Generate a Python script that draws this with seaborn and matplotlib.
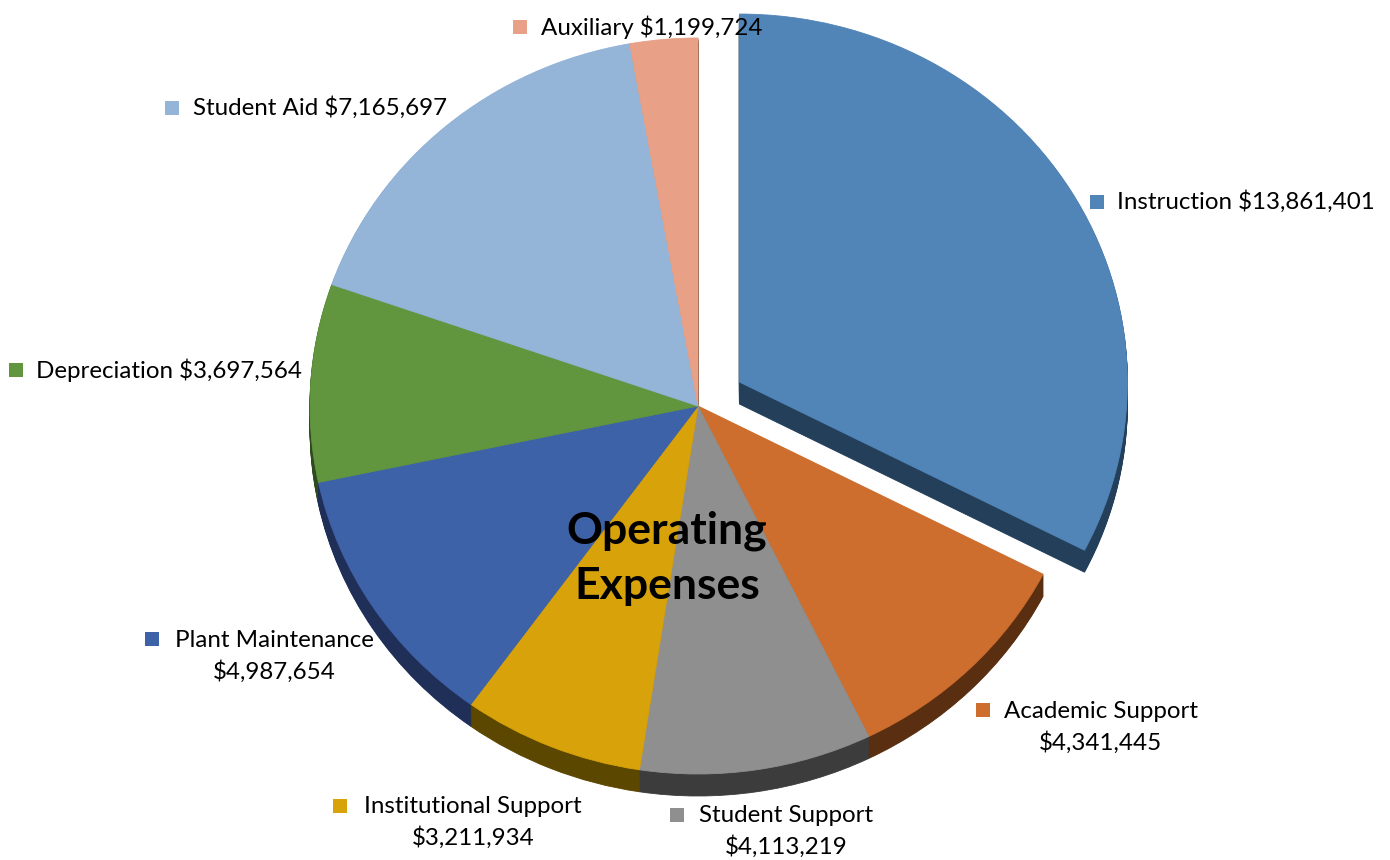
import numpy as np
import matplotlib
matplotlib.use("Agg")
import matplotlib.pyplot as plt
import seaborn as sns

# ---- data ----
categories = ["Instruction", "Academic Support", "Student Support", "Institutional Support",
              "Plant Maintenance", "Depreciation", "Student Aid", "Auxiliary"]
values = [13861401, 4341445, 4113219, 3211934, 4987654, 3697564, 7165697, 1199724]
top_colors = ["#5185B8", "#CD6E2E", "#8F8F8F", "#D8A20A", "#3E62A8", "#61963F", "#94B4D8", "#E8A086"]
side_colors = ["#243F5A", "#5A2E10", "#3C3C3C", "#5C4700", "#1F2F58", "#2F4A1E", "#4A5A6C", "#74503F"]
explode = [0.125, 0, 0, 0, 0, 0, 0, 0]
title = "Operating\nExpenses"

sns.set_theme(style="white")
plt.rcParams['font.family'] = ['Lato', 'DejaVu Sans']

W, H = 1390, 860
fig = plt.figure(figsize=(W / 100, H / 100), dpi=100)
ax = fig.add_axes([0, 0, 1, 1])

CX, CY, RX, RY = 698, 406, 388, 368


def px(x, y):
    return ((x - CX) / RX, (CY - y) / RY)


def draw_pie(colors, dy):
    wedges, _ = ax.pie(values, colors=colors, explode=explode, startangle=90, counterclock=False,
                       center=(0, dy), radius=1)
    for w, c in zip(wedges, colors):
        w.set_edgecolor(c)
        w.set_linewidth(0.6)


depth = 22 / RY
n_layers = 23
for d in np.linspace(depth, 0, n_layers, endpoint=False):
    draw_pie(side_colors, -d)
draw_pie(top_colors, 0)

ax.set_aspect("auto")
x0, y0 = px(0, H)
x1, y1 = px(W, 0)
ax.set_xlim(x0, x1)
ax.set_ylim(y0, y1)
ax.axis("off")

labels = [f"{c} ${v:,}" for c, v in zip(categories, values)]
fs = 17.4

# single-line labels: (marker x, y, text left x)
single = {0: (1097, 202, 1117), 5: (16, 370, 36), 6: (172, 108, 193), 7: (520, 27, 541)}
for i, (mx, my, tx) in single.items():
    ax.scatter(*px(mx, my), marker="s", s=115, color=top_colors[i], linewidths=0, zorder=5)
    ax.text(*px(tx, my), labels[i], ha="left", va="center", fontsize=fs, color="black", zorder=5)

# two-line labels: (marker x, marker y, text center x, block center y)
double = {1: (983, 710, 1101, 727), 2: (677, 815, 786, 831), 3: (340, 806, 473, 822),
          4: (152, 639, 274, 656)}
for i, (mx, my, tcx, tcy) in double.items():
    ax.scatter(*px(mx, my), marker="s", s=115, color=top_colors[i], linewidths=0, zorder=5)
    ax.text(*px(tcx, tcy), f"{categories[i]}\n${values[i]:,}", ha="center", va="center",
            multialignment="center", fontsize=fs, color="black", linespacing=1.5, zorder=5)

ax.text(*px(667, 558), title, ha="center", va="center", fontsize=32, fontweight="bold",
        color="black", linespacing=1.45, zorder=6)

fig.savefig("out.png", dpi=100, facecolor="white")
